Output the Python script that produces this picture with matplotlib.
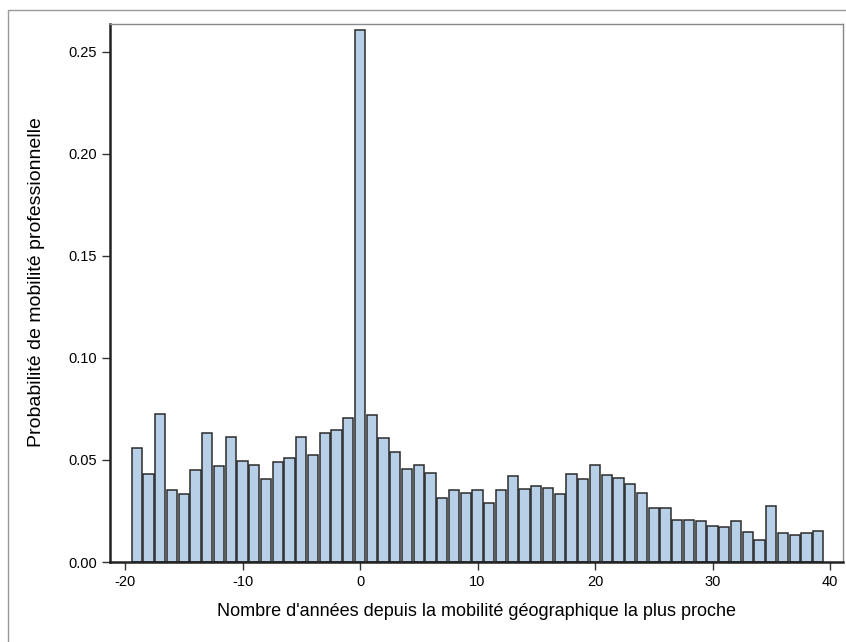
import matplotlib.pyplot as plt
from matplotlib.patches import Rectangle

plt.rcParams['font.family'] = ['Liberation Sans Narrow', 'Liberation Sans', 'DejaVu Sans']

# years relative to the nearest geographic move
years = list(range(-19, 40))
prob = [0.0557, 0.0430, 0.0723, 0.0352, 0.0333, 0.0451, 0.0633, 0.0470, 0.0615, 0.0497,
        0.0477, 0.0405, 0.0490, 0.0508, 0.0615, 0.0526, 0.0631, 0.0648, 0.0707, 0.2608,
        0.0721, 0.0608, 0.0539, 0.0454, 0.0477, 0.0434, 0.0316, 0.0354, 0.0336, 0.0354,
        0.0287, 0.0354, 0.0420, 0.0359, 0.0374, 0.0361, 0.0333, 0.0431, 0.0407, 0.0477,
        0.0425, 0.0413, 0.0382, 0.0338, 0.0267, 0.0267, 0.0205, 0.0208, 0.0200, 0.0175,
        0.0170, 0.0202, 0.0148, 0.0110, 0.0274, 0.0143, 0.0134, 0.0144, 0.0152]
xticks = [-20, -10, 0, 10, 20, 30, 40]
yticks = [0.00, 0.05, 0.10, 0.15, 0.20, 0.25]

W, H = 846, 642
fig = plt.figure(figsize=(W / 100, H / 100), dpi=100)
ax = fig.add_axes([110 / W, 1 - 562 / H, (843 - 110) / W, (562 - 24) / H])

# outer frame
fig.patches.append(Rectangle((8 / W, -0.1), 1.2, 1 - 10 / H + 0.1, transform=fig.transFigure,
                             fill=False, edgecolor='#999999', linewidth=1.0))

ax.bar(years, prob, width=0.88, color='#b8cfe8', edgecolor='#2b2b2b', linewidth=1.1)

ax.set_xlim(-21.28, 41.1)
ax.set_ylim(0, 0.2637)
ax.set_xticks(xticks)
ax.set_xticklabels([str(t) for t in xticks])
ax.set_yticks(yticks)
ax.set_yticklabels([f'{t:.2f}' for t in yticks])
ax.tick_params(direction='out', length=6, width=1, colors='#333333', labelcolor='black', labelsize=10.5)

for s in ['left', 'bottom']:
    ax.spines[s].set_linewidth(1.8)
    ax.spines[s].set_color('#222222')
for s in ['top', 'right']:
    ax.spines[s].set_linewidth(1.0)
    ax.spines[s].set_color('#888888')

ax.set_xlabel("Nombre d'années depuis la mobilité géographique la plus proche", fontsize=13, labelpad=10)
ax.set_ylabel('Probabilité de mobilité professionnelle', fontsize=14)
ax.yaxis.set_label_coords(-0.088, 0.52)

fig.savefig('out.png', dpi=100)
